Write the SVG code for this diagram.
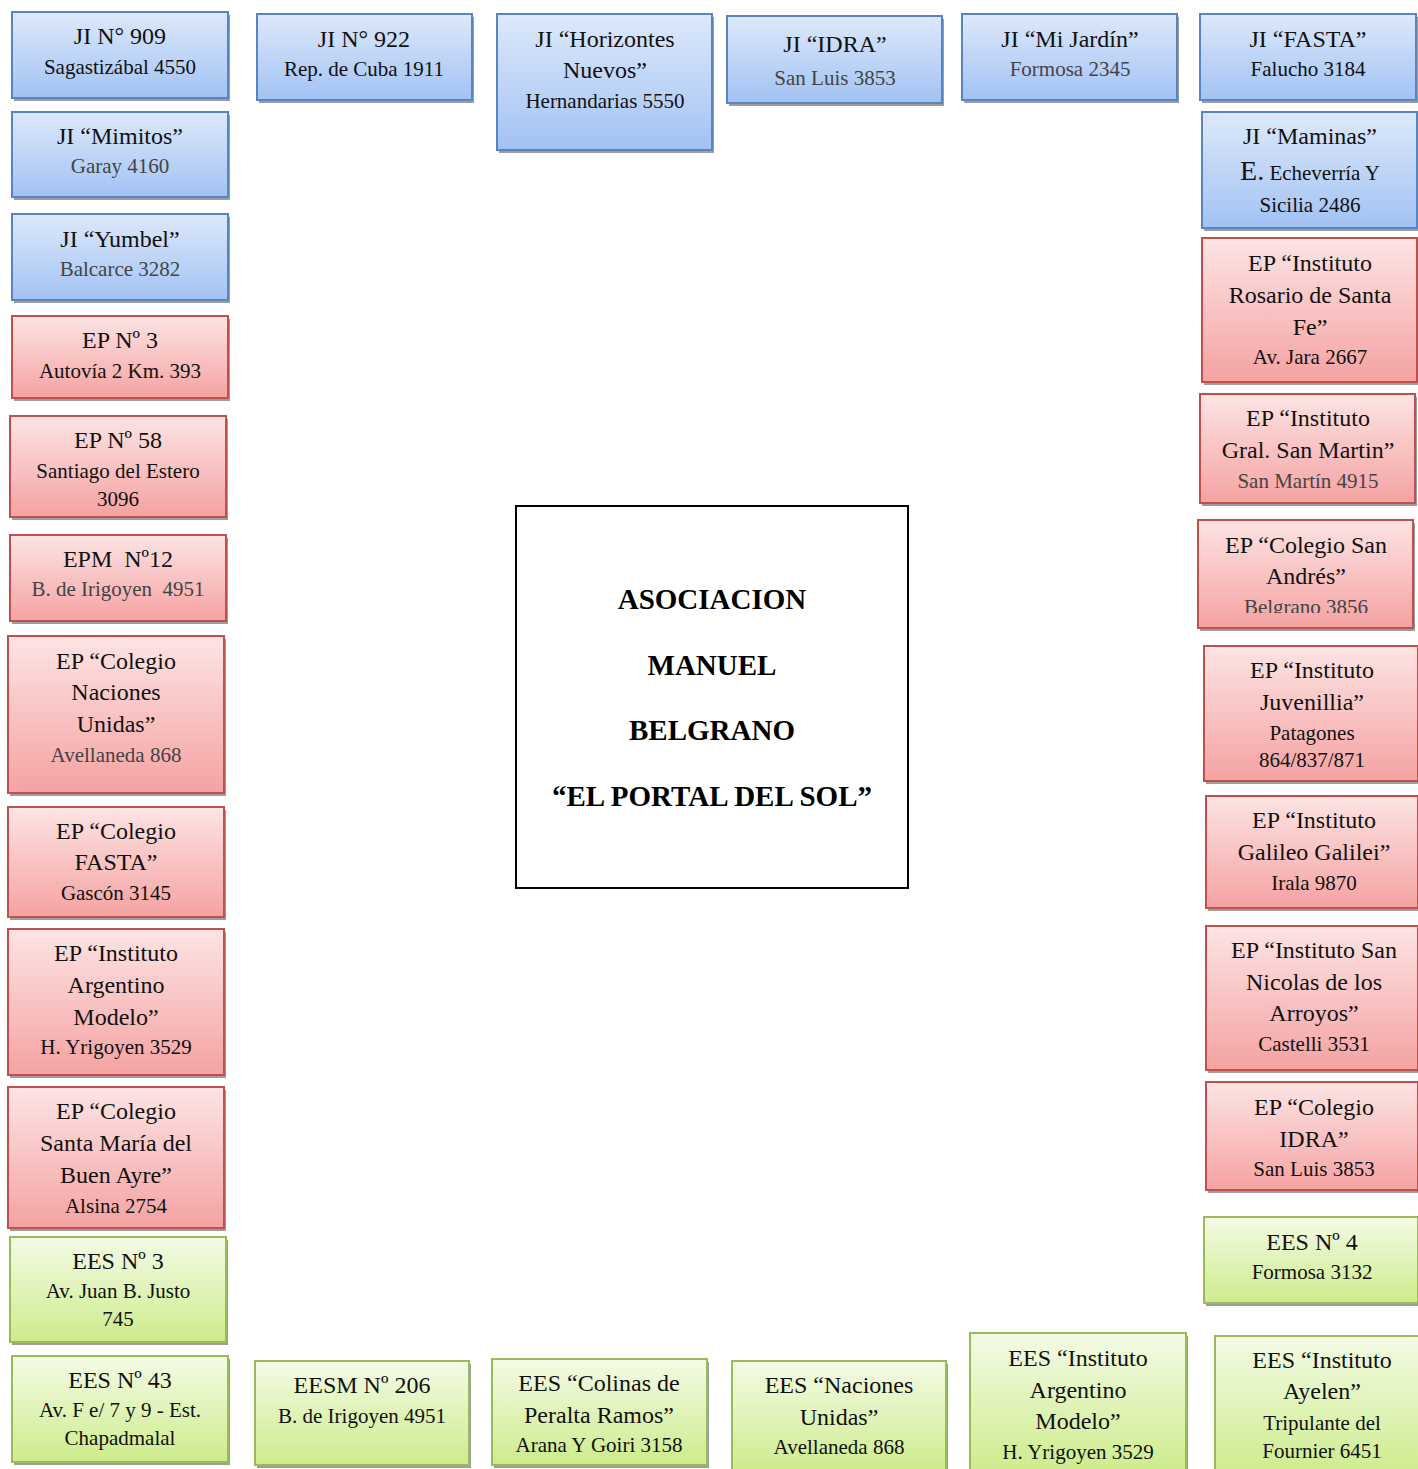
<svg xmlns="http://www.w3.org/2000/svg" width="1418" height="1469" viewBox="0 0 1418 1469">
<defs>
<linearGradient id="gb" x1="0" y1="0" x2="0" y2="1"><stop offset="0" stop-color="#dde9fb"/><stop offset="1" stop-color="#a2c2f3"/></linearGradient>
<linearGradient id="gr" x1="0" y1="0" x2="0" y2="1"><stop offset="0" stop-color="#fde4e4"/><stop offset="1" stop-color="#f5a2a2"/></linearGradient>
<linearGradient id="gg" x1="0" y1="0" x2="0" y2="1"><stop offset="0" stop-color="#f4fbe6"/><stop offset="1" stop-color="#cdec8c"/></linearGradient>
<clipPath id="clipAndres"><rect x="1190" y="510" width="228" height="103"/></clipPath>
</defs>
<style>
.sh{fill:#8c8c8c;opacity:.85}
.b{fill:url(#gb);stroke:#5884c0;stroke-width:2}
.r{fill:url(#gr);stroke:#c0504d;stroke-width:2}
.g{fill:url(#gg);stroke:#9bbb59;stroke-width:2}
text{font-family:"Liberation Serif","Times New Roman",serif;text-anchor:middle;fill:#111}
.n{font-size:24px}
.a{font-size:21px}
.gy{fill:#444}
.t{font-size:29px;font-weight:bold;fill:#000}
</style>
<rect width="1418" height="1469" fill="#fff"/>
<g id="connectors"/>

<!-- Left column -->
<g id="n1"><rect class="sh" x="14" y="15" width="216" height="86"/><rect class="b" x="12" y="12" width="216" height="86"/><text class="n" x="120" y="44">JI N° 909</text><text class="a" x="120" y="74">Sagastizábal 4550</text></g>
<g id="n2"><rect class="sh" x="14" y="115" width="216" height="85"/><rect class="b" x="12" y="112" width="216" height="85"/><text class="n" x="120" y="144">JI “Mimitos”</text><text class="a gy" x="120" y="173">Garay 4160</text></g>
<g id="n3"><rect class="sh" x="14" y="217" width="216" height="86"/><rect class="b" x="12" y="214" width="216" height="86"/><text class="n" x="120" y="247">JI “Yumbel”</text><text class="a gy" x="120" y="276">Balcarce 3282</text></g>
<g id="n4"><rect class="sh" x="14" y="319" width="216" height="82"/><rect class="r" x="12" y="316" width="216" height="82"/><text class="n" x="120" y="348">EP Nº 3</text><text class="a" x="120" y="378">Autovía 2 Km. 393</text></g>
<g id="n5"><rect class="sh" x="12" y="419" width="216" height="101"/><rect class="r" x="10" y="416" width="216" height="101"/><text class="n" x="118" y="448">EP Nº 58</text><text class="a" x="118" y="478">Santiago del Estero</text><text class="a" x="118" y="506">3096</text></g>
<g id="n6"><rect class="sh" x="12" y="538" width="216" height="86"/><rect class="r" x="10" y="535" width="216" height="86"/><text class="n" x="118" y="567">EPM&#160; Nº12</text><text class="a gy" x="118" y="596">B. de Irigoyen&#160; 4951</text></g>
<g id="n7"><rect class="sh" x="10" y="639" width="216" height="157"/><rect class="r" x="8" y="636" width="216" height="157"/><text class="n" x="116" y="669">EP “Colegio</text><text class="n" x="116" y="700">Naciones</text><text class="n" x="116" y="732">Unidas”</text><text class="a gy" x="116" y="762">Avellaneda 868</text></g>
<g id="n8"><rect class="sh" x="10" y="810" width="216" height="110"/><rect class="r" x="8" y="807" width="216" height="110"/><text class="n" x="116" y="839">EP “Colegio</text><text class="n" x="116" y="870">FASTA”</text><text class="a" x="116" y="900">Gascón 3145</text></g>
<g id="n9"><rect class="sh" x="10" y="932" width="216" height="146"/><rect class="r" x="8" y="929" width="216" height="146"/><text class="n" x="116" y="961">EP “Instituto</text><text class="n" x="116" y="993">Argentino</text><text class="n" x="116" y="1025">Modelo”</text><text class="a" x="116" y="1054">H. Yrigoyen 3529</text></g>
<g id="n10"><rect class="sh" x="10" y="1090" width="216" height="141"/><rect class="r" x="8" y="1087" width="216" height="141"/><text class="n" x="116" y="1119">EP “Colegio</text><text class="n" x="116" y="1151">Santa María del</text><text class="n" x="116" y="1183">Buen Ayre”</text><text class="a" x="116" y="1213">Alsina 2754</text></g>
<g id="n11"><rect class="sh" x="12" y="1240" width="216" height="105"/><rect class="g" x="10" y="1237" width="216" height="105"/><text class="n" x="118" y="1269">EES Nº 3</text><text class="a" x="118" y="1298">Av. Juan B. Justo</text><text class="a" x="118" y="1326">745</text></g>
<g id="n12"><rect class="sh" x="14" y="1359" width="216" height="106"/><rect class="g" x="12" y="1356" width="216" height="106"/><text class="n" x="120" y="1388">EES Nº 43</text><text class="a" x="120" y="1417">Av. F e/ 7 y 9 - Est.</text><text class="a" x="120" y="1445">Chapadmalal</text></g>

<!-- Top row -->
<g id="t1"><rect class="sh" x="259" y="17" width="215" height="86"/><rect class="b" x="257" y="14" width="215" height="86"/><text class="n" x="364" y="47">JI N° 922</text><text class="a" x="364" y="76">Rep. de Cuba 1911</text></g>
<g id="t2"><rect class="sh" x="499" y="17" width="215" height="136"/><rect class="b" x="497" y="14" width="215" height="136"/><text class="n" x="605" y="47">JI “Horizontes</text><text class="n" x="605" y="78">Nuevos”</text><text class="a" x="605" y="108">Hernandarias 5550</text></g>
<g id="t3"><rect class="sh" x="729" y="19" width="215" height="87"/><rect class="b" x="727" y="16" width="215" height="87"/><text class="n" x="835" y="52">JI “IDRA”</text><text class="a gy" x="835" y="85">San Luis 3853</text></g>
<g id="t4"><rect class="sh" x="964" y="17" width="215" height="86"/><rect class="b" x="962" y="14" width="215" height="86"/><text class="n" x="1070" y="47">JI “Mi Jardín”</text><text class="a gy" x="1070" y="76">Formosa 2345</text></g>
<g id="t5"><rect class="sh" x="1202" y="17" width="216" height="86"/><rect class="b" x="1200" y="14" width="216" height="86"/><text class="n" x="1308" y="47">JI “FASTA”</text><text class="a" x="1308" y="76">Falucho 3184</text></g>

<!-- Right column -->
<g id="r1"><rect class="sh" x="1204" y="115" width="215" height="116"/><rect class="b" x="1202" y="112" width="215" height="116"/><text class="n" x="1310" y="144">JI “Maminas”</text><text class="a" x="1310" y="180"><tspan font-size="28px">E.</tspan> Echeverría Y</text><text class="a" x="1310" y="212">Sicilia 2486</text></g>
<g id="r2"><rect class="sh" x="1204" y="241" width="215" height="144"/><rect class="r" x="1202" y="238" width="215" height="144"/><text class="n" x="1310" y="271">EP “Instituto</text><text class="n" x="1310" y="303">Rosario de Santa</text><text class="n" x="1310" y="335">Fe”</text><text class="a" x="1310" y="364">Av. Jara 2667</text></g>
<g id="r3"><rect class="sh" x="1202" y="397" width="215" height="109"/><rect class="r" x="1200" y="394" width="215" height="109"/><text class="n" x="1308" y="426">EP “Instituto</text><text class="n" x="1308" y="458">Gral. San Martin”</text><text class="a gy" x="1308" y="488">San Martín 4915</text></g>
<g id="r4"><rect class="sh" x="1200" y="523" width="215" height="108"/><rect class="r" x="1198" y="520" width="215" height="108"/><text class="n" x="1306" y="553">EP “Colegio San</text><text class="n" x="1306" y="584">Andrés”</text><text class="a gy" x="1306" y="614" clip-path="url(#clipAndres)">Belgrano 3856</text></g>
<g id="r5"><rect class="sh" x="1206" y="649" width="214" height="135"/><rect class="r" x="1204" y="646" width="214" height="135"/><text class="n" x="1312" y="678">EP “Instituto</text><text class="n" x="1312" y="710">Juvenillia”</text><text class="a" x="1312" y="740">Patagones</text><text class="a" x="1312" y="767">864/837/871</text></g>
<g id="r6"><rect class="sh" x="1208" y="799" width="212" height="112"/><rect class="r" x="1206" y="796" width="212" height="112"/><text class="n" x="1314" y="828">EP “Instituto</text><text class="n" x="1314" y="860">Galileo Galilei”</text><text class="a" x="1314" y="890">Irala 9870</text></g>
<g id="r7"><rect class="sh" x="1208" y="929" width="212" height="144"/><rect class="r" x="1206" y="926" width="212" height="144"/><text class="n" x="1314" y="958">EP “Instituto San</text><text class="n" x="1314" y="990">Nicolas de los</text><text class="n" x="1314" y="1021">Arroyos”</text><text class="a" x="1314" y="1051">Castelli 3531</text></g>
<g id="r8"><rect class="sh" x="1208" y="1085" width="212" height="108"/><rect class="r" x="1206" y="1082" width="212" height="108"/><text class="n" x="1314" y="1115">EP “Colegio</text><text class="n" x="1314" y="1147">IDRA”</text><text class="a" x="1314" y="1176">San Luis 3853</text></g>
<g id="r9"><rect class="sh" x="1206" y="1220" width="214" height="86"/><rect class="g" x="1204" y="1217" width="214" height="86"/><text class="n" x="1312" y="1250">EES Nº 4</text><text class="a" x="1312" y="1279">Formosa 3132</text></g>
<g id="r10"><rect class="sh" x="1217" y="1339" width="214" height="140"/><rect class="g" x="1215" y="1336" width="214" height="140"/><text class="n" x="1322" y="1368">EES “Instituto</text><text class="n" x="1322" y="1399">Ayelen”</text><text class="a" x="1322" y="1430">Tripulante del</text><text class="a" x="1322" y="1458">Fournier 6451</text></g>

<!-- Bottom row -->
<g id="b1"><rect class="sh" x="257" y="1364" width="214" height="104"/><rect class="g" x="255" y="1361" width="214" height="104"/><text class="n" x="362" y="1393">EESM Nº 206</text><text class="a" x="362" y="1423">B. de Irigoyen 4951</text></g>
<g id="b2"><rect class="sh" x="494" y="1362" width="215" height="106"/><rect class="g" x="492" y="1359" width="215" height="106"/><text class="n" x="599" y="1391">EES “Colinas de</text><text class="n" x="599" y="1423">Peralta Ramos”</text><text class="a" x="599" y="1452">Arana Y Goiri 3158</text></g>
<g id="b3"><rect class="sh" x="734" y="1364" width="214" height="110"/><rect class="g" x="732" y="1361" width="214" height="110"/><text class="n" x="839" y="1393">EES “Naciones</text><text class="n" x="839" y="1425">Unidas”</text><text class="a" x="839" y="1454">Avellaneda 868</text></g>
<g id="b4"><rect class="sh" x="972" y="1336" width="216" height="140"/><rect class="g" x="970" y="1333" width="216" height="140"/><text class="n" x="1078" y="1366">EES “Instituto</text><text class="n" x="1078" y="1398">Argentino</text><text class="n" x="1078" y="1429">Modelo”</text><text class="a" x="1078" y="1459">H. Yrigoyen 3529</text></g>

<!-- Center -->
<g id="center"><rect x="516" y="506" width="392" height="382" fill="#fff" stroke="#000" stroke-width="2"/><text class="t" x="712" y="609">ASOCIACION</text><text class="t" x="712" y="675">MANUEL</text><text class="t" x="712" y="740">BELGRANO</text><text class="t" x="712" y="806">“EL PORTAL DEL SOL”</text></g>
</svg>
